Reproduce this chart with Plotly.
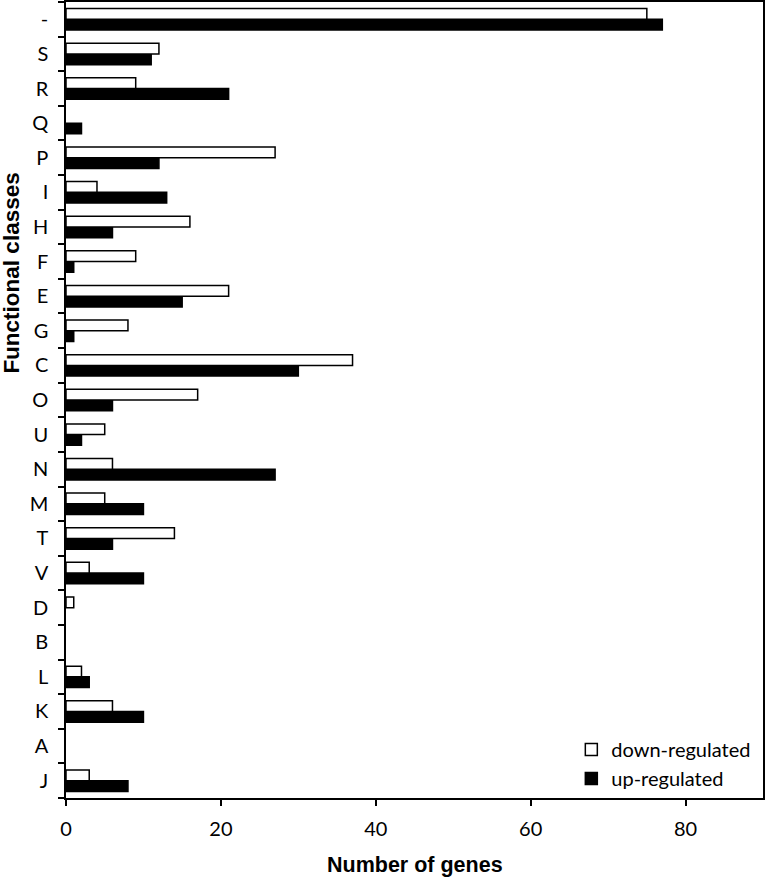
import plotly.graph_objects as go

# functional classes, bottom to top
classes = ['J', 'A', 'K', 'L', 'B', 'D', 'V', 'T', 'M', 'N', 'U', 'O',
           'C', 'G', 'E', 'F', 'H', 'I', 'P', 'Q', 'R', 'S', '-']
down_regulated = [3, 0, 6, 2, 0, 1, 3, 14, 5, 6, 5, 17,
                  37, 8, 21, 9, 16, 4, 27, 0, 9, 12, 75]
up_regulated = [8, 0, 10, 3, 0, 0, 10, 6, 10, 27, 2, 6,
                30, 1, 15, 1, 6, 13, 12, 2, 21, 11, 77]
x_ticks = [0, 20, 40, 60, 80]

tick_font = dict(family='Lato, Open Sans, sans-serif', size=20, color='black')
title_font = dict(family='Liberation Sans, Arial, sans-serif', size=21.5, color='black')


def no_zero(vals):
    # empty classes draw no bar at all
    return [v if v else None for v in vals]


fig = go.Figure()
# first trace sits lower within each group
fig.add_trace(go.Bar(y=classes, x=no_zero(up_regulated), orientation='h', name='up-regulated',
                     marker=dict(color='black', line=dict(color='black', width=1.5))))
fig.add_trace(go.Bar(y=classes, x=no_zero(down_regulated), orientation='h', name='down-regulated',
                     marker=dict(color='white', line=dict(color='black', width=1.5))))

fig.update_layout(
    width=765, height=878,
    margin=dict(l=66, r=2, t=2, b=80),
    paper_bgcolor='white', plot_bgcolor='white',
    barmode='group', bargap=0.38, bargroupgap=0,
    showlegend=True,
    legend=dict(x=0.725, y=0, xanchor='left', yanchor='bottom',
                traceorder='reversed', bgcolor='rgba(0,0,0,0)',
                font=tick_font, itemwidth=30),
    annotations=[
        dict(text='<b>Number of genes</b>', xref='paper', yref='paper',
             x=0.5, y=-0.084, xanchor='center', yanchor='middle',
             showarrow=False, font=title_font),
        dict(text='<b>Functional classes</b>', xref='paper', yref='paper',
             x=-0.0775, y=0.66, xanchor='center', yanchor='middle', textangle=-90,
             showarrow=False, font=dict(title_font, size=22.5)),
    ],
)
fig.update_xaxes(range=[0, 90], tickvals=x_ticks, ticks='outside', ticklen=6,
                 tickwidth=1.5, tickcolor='black', showline=True, linecolor='black',
                 linewidth=1.5, mirror=True, showgrid=False, zeroline=False,
                 tickfont=tick_font, ticklabelstandoff=6, automargin=False)
fig.update_yaxes(categoryorder='array', categoryarray=classes, ticks='outside',
                 tickson='boundaries', ticklen=6, tickwidth=1.5, tickcolor='black',
                 showline=True, linecolor='black', linewidth=1.5, mirror=True,
                 showgrid=False, tickfont=tick_font, ticklabelstandoff=12,
                 automargin=False)

# drop the browser's default 8px body margin so the figure sits flush
fig.write_html('out.html', config={'displayModeBar': False},
               post_script="document.body.style.margin='0';")
